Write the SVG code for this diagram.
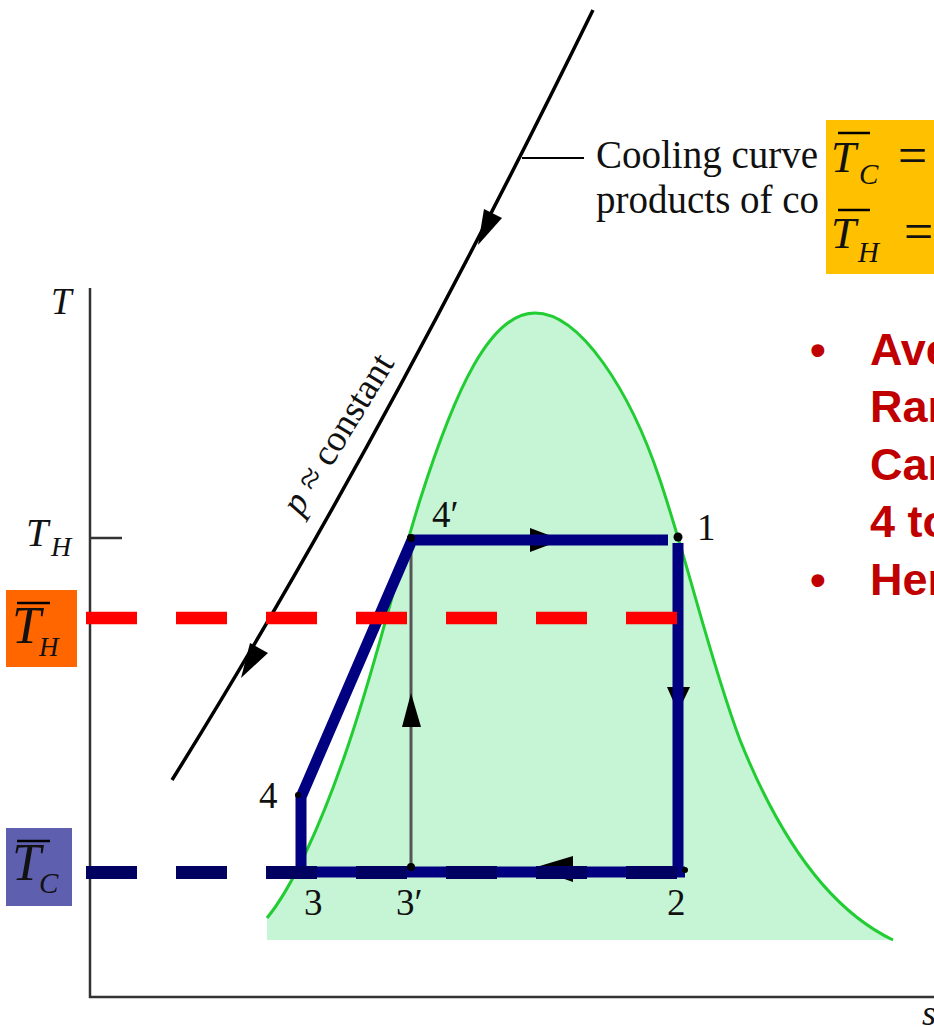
<svg xmlns="http://www.w3.org/2000/svg" width="934" height="1027" viewBox="0 0 934 1027">
<style>
.ser{font-family:"Liberation Serif","Times New Roman",serif;fill:#111}
.it{font-style:italic}
.red{font-family:"Liberation Sans",Arial,sans-serif;font-weight:bold;fill:#c00000;font-size:45px}
.ax{stroke:#333;stroke-width:2.5;fill:none}
.cyc{stroke:#000080;stroke-width:11;fill:none}
.bar{stroke:#000;stroke-width:2.5}
</style>
<rect width="934" height="1027" fill="#fff"/>
<!-- dome -->
<g id="dome">
<path d="M267,918 C290,890 320,830 350,740 C380,650 395,580 420,500 C455,390 490,313 535,313 C580,313 630,390 660,480 C690,570 710,660 740,740 C780,840 830,910 893,940 L893,940 L267,940 Z" fill="#c5f5d5"/>
<path d="M267,918 C290,890 320,830 350,740 C380,650 395,580 420,500 C455,390 490,313 535,313 C580,313 630,390 660,480 C690,570 710,660 740,740 C780,840 830,910 893,940" fill="none" stroke="#22cc33" stroke-width="3"/>
</g>
<!-- axes -->
<g id="axes">
<line class="ax" x1="90" y1="288" x2="90" y2="998"/>
<line class="ax" x1="89" y1="997" x2="934" y2="997"/>
<line class="ax" x1="90" y1="538" x2="122" y2="538" stroke-width="2"/>
<text class="ser it" x="51" y="314" font-size="37">T</text>
<text class="ser it" x="26" y="546" font-size="40">T</text>
<text class="ser it" x="51" y="556" font-size="28">H</text>
<text class="ser it" x="922" y="1025" font-size="36">s</text>
</g>
<!-- cooling curve -->
<g id="cooling-curve">
<path d="M593,10 Q376,453 172,780" fill="none" stroke="#000" stroke-width="3.5"/>
<polygon points="478,245 502,218 484,209" fill="#000"/>
<polygon points="241,678 268,653 250,643" fill="#000"/>
<line x1="522" y1="158" x2="584" y2="158" stroke="#000" stroke-width="1.8"/>
<text class="ser" x="596" y="168" font-size="39">Cooling curve</text>
<text class="ser" x="596" y="213" font-size="39">products of co</text>
<text class="ser" transform="translate(348,440) rotate(-58.5)" text-anchor="middle" font-size="37"><tspan class="it">p</tspan> ≈ constant</text>
</g>
<!-- cycle -->
<g id="cycle">
<line x1="411" y1="540" x2="411" y2="870" stroke="#555" stroke-width="3"/>
<polygon points="411,693 402,727 421,727" fill="#000"/>
<polygon points="562,540 530,528 530,552" fill="#000"/>
<polygon points="678,712 667,687 690,687" fill="#000"/>
<polygon points="533,868 573,856 573,882" fill="#000"/>
<line class="cyc" x1="300" y1="872" x2="685" y2="872" stroke-width="12"/>
<polyline class="cyc" points="301,872 301,797 412,540 668,540" stroke-linejoin="miter"/>
<line class="cyc" x1="678" y1="543" x2="678" y2="872"/>
<circle cx="411" cy="538" r="4" fill="#000"/>
<circle cx="678" cy="537" r="4.5" fill="#000"/>
<circle cx="411" cy="867" r="4" fill="#000"/>
<circle cx="685" cy="870" r="3" fill="#000"/>
<circle cx="298" cy="795" r="3" fill="#000"/>
</g>
<!-- dashed reference lines -->
<g id="dashes">
<line x1="86" y1="618" x2="677" y2="618" stroke="#ff0000" stroke-width="12.5" stroke-dasharray="51 39"/>
<line x1="86" y1="872.5" x2="677" y2="872.5" stroke="#000060" stroke-width="13" stroke-dasharray="51 39"/>
</g>
<!-- state labels -->
<g id="labels" class="ser" font-size="37">
<text x="432" y="527">4′</text>
<text x="697" y="540">1</text>
<text x="259" y="808">4</text>
<text x="304" y="915">3</text>
<text x="396" y="915">3′</text>
<text x="667" y="915">2</text>
</g>
<!-- yellow box -->
<g id="box-yellow">
<rect x="826" y="120" width="108" height="154" fill="#ffc000"/>
<text class="ser it" x="831" y="172" font-size="45" fill="#000">T</text>
<line class="bar" x1="838" y1="133" x2="870" y2="133"/>
<text class="ser it" x="859" y="184" font-size="29">C</text>
<text class="ser" x="898" y="173" font-size="52">=</text>
<text class="ser it" x="831" y="248" font-size="45">T</text>
<line class="bar" x1="838" y1="210" x2="870" y2="210"/>
<text class="ser it" x="858" y="262" font-size="29">H</text>
<text class="ser" x="904" y="249" font-size="52">=</text>
</g>
<!-- orange box -->
<g id="box-orange">
<rect x="6" y="590" width="71" height="77" fill="#ff6600"/>
<text class="ser it" x="12" y="643" font-size="52">T</text>
<line class="bar" x1="17" y1="603" x2="50" y2="603"/>
<text class="ser it" x="39" y="656" font-size="27">H</text>
</g>
<!-- purple box -->
<g id="box-purple">
<rect x="6" y="828" width="66" height="78" fill="#5f5fb0"/>
<text class="ser it" x="12" y="880" font-size="52">T</text>
<line class="bar" x1="17" y1="841" x2="50" y2="841"/>
<text class="ser it" x="39" y="893" font-size="29">C</text>
</g>
<!-- red bullet text -->
<g id="bullets" class="red">
<text x="810" y="365">•</text>
<text x="870" y="365">Ave</text>
<text x="870" y="422">Ran</text>
<text x="870" y="480">Car</text>
<text x="870" y="537">4 to</text>
<text x="810" y="595">•</text>
<text x="870" y="595">Her</text>
</g>
</svg>
